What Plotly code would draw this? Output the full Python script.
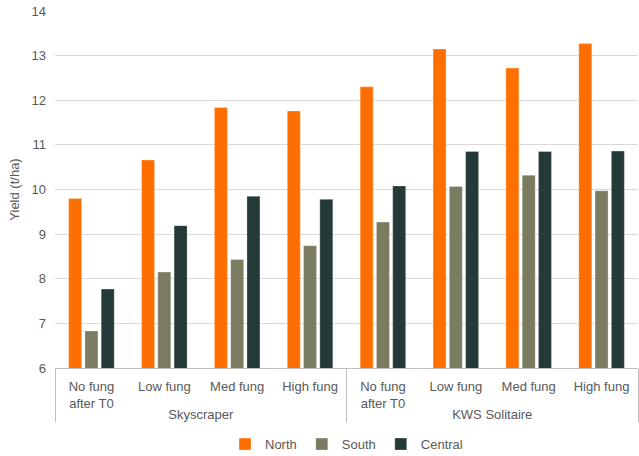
import plotly.graph_objects as go

varieties = ["Skyscraper"] * 4 + ["KWS Solitaire"] * 4
treatments = ["No fung<br>after T0", "Low fung", "Med fung", "High fung"] * 2

north = [9.80, 10.66, 11.84, 11.76, 12.30, 13.15, 12.72, 13.27]
south = [6.83, 8.15, 8.43, 8.74, 9.27, 10.07, 10.32, 9.97]
central = [7.77, 9.19, 9.85, 9.78, 10.08, 10.85, 10.85, 10.86]

series = [("North", north, "#FF6F00"), ("South", south, "#7B7B62"), ("Central", central, "#233A38")]

fig = go.Figure()
for name, vals, col in series:
    fig.add_trace(go.Bar(
        x=[varieties, treatments], y=vals, name=name,
        marker=dict(color=col, line=dict(color="rgba(255,255,255,0.6)", width=0.5)),
    ))

fig.update_layout(
    width=639, height=456,
    margin=dict(l=55, r=1, t=11, b=88),
    plot_bgcolor="white", paper_bgcolor="white",
    font=dict(family="Liberation Sans, Arial, sans-serif", size=13, color="#595959"),
    barmode="group", bargap=0.33, bargroupgap=0.2,
    showlegend=True,
    legend=dict(orientation="h", x=0.5, xanchor="center", yref="container", y=0.026, yanchor="middle",
                font=dict(size=13, color="#595959"), itemwidth=30, traceorder="normal"),
)
fig.update_yaxes(range=[6, 14], dtick=1, showgrid=True, gridcolor="#D9D9D9", gridwidth=1,
                 zeroline=False, showline=False, ticks="", ticklen=0, ticklabelstandoff=8,
                 automargin=False,
                 title=dict(text="Yield (t/ha)", font=dict(size=13, color="#595959"), standoff=8),
                 tickfont=dict(size=13, color="#595959"))
fig.update_xaxes(type="multicategory", showline=True, linecolor="#BFBFBF", linewidth=1,
                 showdividers=True, dividercolor="#BFBFBF", dividerwidth=1,
                 ticklabelstandoff=6, automargin=False,
                 tickfont=dict(size=13, color="#595959"), ticks="")

fig.write_html("out.html")
